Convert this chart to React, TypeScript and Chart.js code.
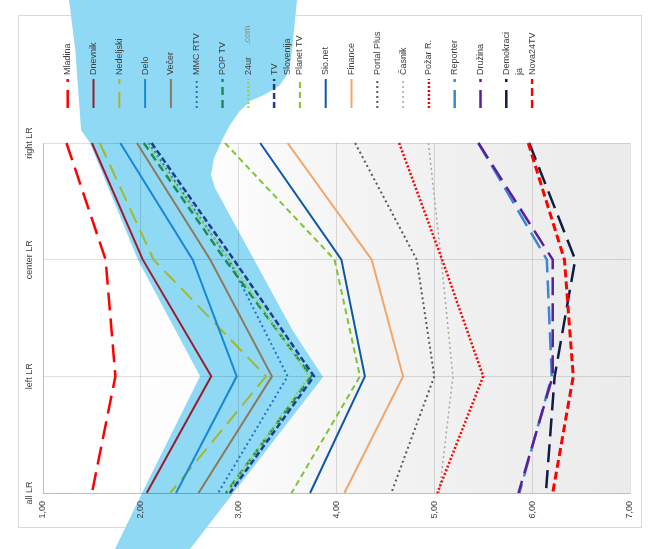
import React, { useEffect, useRef } from "react";
import { Chart, registerables } from "chart.js";

Chart.register(...registerables);

// ---- data ----
const categories = ["right LR", "center LR", "left LR", "all LR"];
const xTickValues = [1, 2, 3, 4, 5, 6, 7];

const seriesNames = [
  "Mladina", "Dnevnik", "Nedeljski", "Delo", "Večer", "MMC RTV", "POP TV", "24ur.com",
  "TV Slovenija", "Planet TV", "Sio.net", "Finance", "Portal Plus", "Časnik", "Požar R.",
  "Reporter", "Družina", "Demokracija", "Nova24TV",
];
const legendLines = [
  ["Mladina"], ["Dnevnik"], ["Nedeljski"], ["Delo"], ["Večer"], ["MMC RTV"], ["POP TV"],
  ["24ur", ".com"], ["TV", "Slovenija"], ["Planet TV"], ["Sio.net"], ["Finance"],
  ["Portal Plus"], ["Časnik"], ["Požar R."], ["Reporter"], ["Družina"], ["Demokraci", "ja"], ["Nova24TV"],
];

const mladina = [1.24, 1.64, 1.74, 1.5];
const dnevnik = [1.5, 2.02, 2.72, 2.06];
const nedeljski = [1.58, 2.13, 3.28, 2.3];
const delo = [1.79, 2.53, 2.98, 2.36];
const vecer = [1.96, 2.71, 3.34, 2.59];
const mmcRtv = [2.08, 2.9, 3.5, 2.79];
const popTv = [2.03, 2.86, 3.74, 2.87];
const ur24 = [2.06, 2.9, 3.72, 2.88];
const tvSlovenija = [2.11, 2.95, 3.77, 2.91];
const planetTv = [2.86, 3.98, 4.24, 3.54];
const sioNet = [3.22, 4.05, 4.29, 3.73];
const finance = [3.5, 4.36, 4.68, 4.08];
const portalPlus = [4.19, 4.82, 5.0, 4.56];
const casnik = [4.94, 5.07, 5.19, 5.05];
const pozarR = [4.64, 5.08, 5.5, 5.03];
const reporter = [5.45, 6.15, 6.2, 5.87];
const druzina = [5.45, 6.21, 6.21, 5.86];
const demokracija = [5.97, 6.44, 6.23, 6.14];
const nova24tv = [5.96, 6.33, 6.42, 6.21];

const seriesValues = [
  mladina, dnevnik, nedeljski, delo, vecer, mmcRtv, popTv, ur24, tvSlovenija, planetTv,
  sioNet, finance, portalPlus, casnik, pozarR, reporter, druzina, demokracija, nova24tv,
];

// highlighted band, in (value, category index) units
const bandShape: [number, number][] = [
  [1.266, -1.226], [3.596, -1.226], [3.566, -0.969], [3.535, -0.711], [3.494, -0.583],
  [3.412, -0.489], [3.259, -0.411], [3.116, -0.36], [3.003, -0.266], [2.911, -0.154],
  [2.83, -0.026], [2.748, 0.129], [2.717, 0.274], [2.758, 0.386], [3.555, 1.611],
  [3.862, 2.006], [2.503, 3.48], [1.736, 3.48], [2.012, 3.0], [2.605, 2.0],
  [1.971, 1.003], [1.48, 0], [1.389, -0.111], [1.33, -0.8],
];

// ---- styles ----
const styles = [
  { c: "#ff0000", w: 2.5, d: [18, 8] },
  { c: "#9b1b30", w: 2, d: [] },
  { c: "#a3b82c", w: 2, d: [16, 8] },
  { c: "#1787d6", w: 2, d: [] },
  { c: "#8b7a5e", w: 2, d: [] },
  { c: "#1c74c4", w: 2, d: [2, 3] },
  { c: "#1f8a5a", w: 2.5, d: [8, 5] },
  { c: "#8ed14f", w: 2, d: [2, 2] },
  { c: "#1f3d8c", w: 2.5, d: [6, 3] },
  { c: "#7cc534", w: 2, d: [6, 4] },
  { c: "#0c57a6", w: 2, d: [] },
  { c: "#f4a568", w: 2, d: [] },
  { c: "#595959", w: 2, d: [2, 3] },
  { c: "#a6a6a6", w: 1.5, d: [2, 3] },
  { c: "#ff0000", w: 2.5, d: [2, 2] },
  { c: "#3b87d2", w: 2.5, d: [18, 8] },
  { c: "#5a1f99", w: 2.5, d: [18, 8] },
  { c: "#101c42", w: 2.5, d: [18, 8] },
  { c: "#ff0000", w: 3, d: [8, 4] },
];

const FONT = "9px 'Liberation Sans', Arial, sans-serif";
const TEXT = "#404040";

const decor = {
  id: "decor",
  beforeDraw(chart: any) {
    const { ctx, chartArea: a, scales } = chart;
    ctx.save();
    ctx.fillStyle = "#ffffff";
    ctx.fillRect(0, 0, chart.width, chart.height);
    ctx.strokeStyle = "#d9d9d9";
    ctx.lineWidth = 1;
    ctx.strokeRect(18.5, 15.5, 623, 512);
    const g = ctx.createLinearGradient(a.left, 0, a.right, 0);
    g.addColorStop(0, "#ffffff");
    g.addColorStop(0.3, "#fdfdfd");
    g.addColorStop(0.55, "#f3f3f3");
    g.addColorStop(1, "#ebebeb");
    ctx.fillStyle = g;
    ctx.fillRect(a.left, a.top, a.right - a.left, a.bottom - a.top);
    ctx.beginPath();
    bandShape.forEach(([v, i], k) => {
      const px = scales.x.getPixelForValue(v);
      const py = scales.y.getPixelForValue(i);
      if (k === 0) ctx.moveTo(px, py);
      else ctx.lineTo(px, py);
    });
    ctx.closePath();
    ctx.fillStyle = "#8fd9f5";
    ctx.fill();
    ctx.restore();
  },
  afterDraw(chart: any) {
    const { ctx, chartArea: a, scales } = chart;
    ctx.save();
    ctx.font = FONT;
    ctx.fillStyle = TEXT;
    // x tick labels
    xTickValues.forEach((v) => {
      const px = scales.x.getPixelForValue(v);
      ctx.save();
      ctx.translate(px, a.bottom + 8);
      ctx.rotate(-Math.PI / 2);
      ctx.textAlign = "right";
      ctx.textBaseline = "middle";
      ctx.fillText(v.toFixed(2).replace(".", ","), 0, 0);
      ctx.restore();
    });
    // y category labels
    categories.forEach((c, i) => {
      const py = scales.y.getPixelForValue(i);
      ctx.save();
      ctx.translate(30, py);
      ctx.rotate(-Math.PI / 2);
      ctx.textAlign = "center";
      ctx.textBaseline = "middle";
      ctx.fillText(c, 0, 0);
      ctx.restore();
    });
    // legend
    seriesNames.forEach((_, i) => {
      const lx = 67.7 + i * 25.8;
      const s = styles[i];
      ctx.save();
      ctx.strokeStyle = s.c;
      ctx.lineWidth = Math.min(s.w, 2.5);
      ctx.setLineDash(s.d);
      ctx.beginPath();
      ctx.moveTo(lx, 108);
      ctx.lineTo(lx, 79);
      ctx.stroke();
      ctx.restore();
      const lines = legendLines[i];
      lines.forEach((t, j) => {
        ctx.save();
        if (i === 7 && j === 1) {
          ctx.translate(lx - 1, 45);
          ctx.fillStyle = "#8c8c8c";
        } else {
          ctx.translate(lx + j * 13, 75);
          ctx.fillStyle = TEXT;
        }
        ctx.rotate(-Math.PI / 2);
        ctx.textAlign = "left";
        ctx.textBaseline = "middle";
        ctx.fillText(t, 0, 0);
        ctx.restore();
      });
    });
    ctx.restore();
  },
};

export default function App() {
  const ref = useRef<HTMLCanvasElement>(null);
  useEffect(() => {
    document.body.style.margin = "0";
    const n = seriesNames.length;
    const chart = new Chart(ref.current as HTMLCanvasElement, {
      type: "line",
      data: {
        labels: categories,
        datasets: seriesNames.map((name, i) => ({
          label: name,
          data: seriesValues[i],
          borderColor: styles[i].c,
          backgroundColor: styles[i].c,
          borderWidth: styles[i].w,
          borderDash: styles[i].d,
          pointRadius: 0,
          tension: 0,
          fill: false,
          order: n - i,
          borderJoinStyle: "miter" as const,
        })),
      },
      options: {
        indexAxis: "y",
        responsive: false,
        animation: false,
        devicePixelRatio: 1,
        layout: { padding: { left: 0, top: 143, right: 20, bottom: 0 } },
        plugins: { legend: { display: false }, tooltip: { enabled: false } },
        scales: {
          x: {
            type: "linear",
            min: 1,
            max: 7,
            ticks: { display: false, stepSize: 1 },
            grid: { color: "rgba(0,0,0,0.12)", drawTicks: false },
            border: { color: "rgba(0,0,0,0.15)" },
            afterFit: (s: any) => { s.height = 56; },
          },
          y: {
            type: "category",
            offset: false,
            ticks: { display: false },
            grid: { color: "rgba(0,0,0,0.12)", drawTicks: false },
            border: { color: "rgba(0,0,0,0.15)" },
            afterFit: (s: any) => { s.width = 43; },
          },
        },
      },
      plugins: [decor],
    } as any);
    return () => chart.destroy();
  }, []);
  return (
    <div style={{ width: 650, height: 549 }}>
      <canvas ref={ref} width={650} height={549} style={{ display: "block" }} />
    </div>
  );
}
